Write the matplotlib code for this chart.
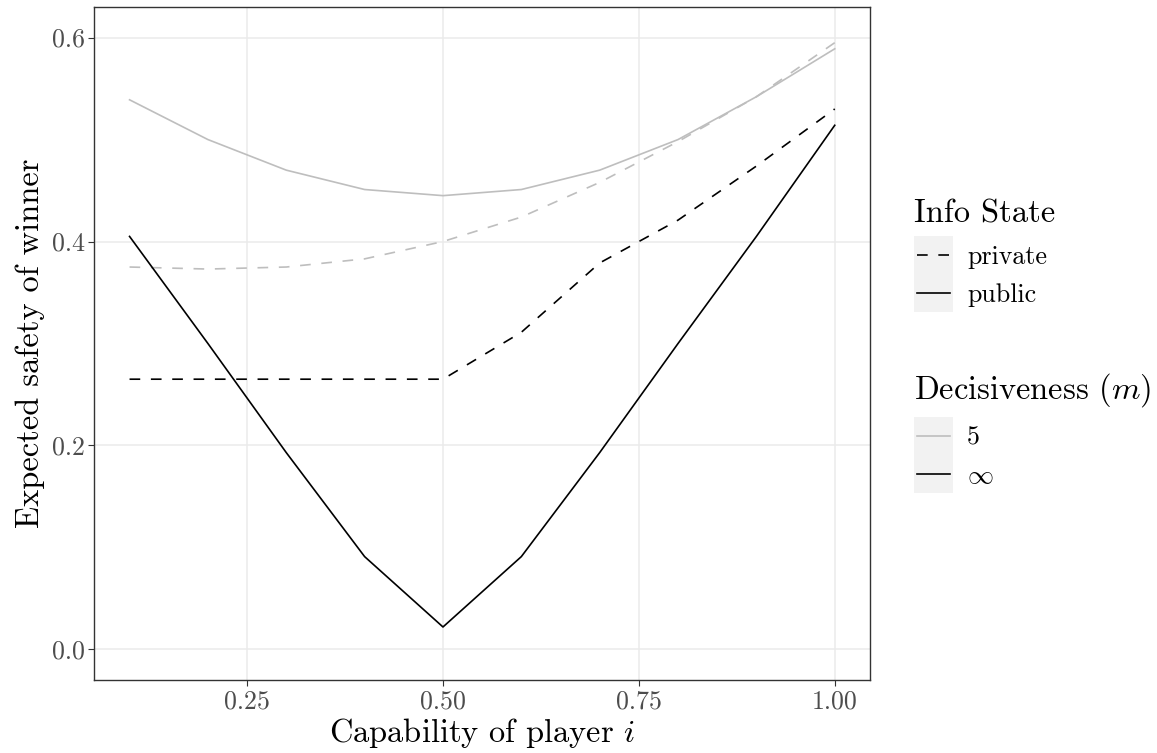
import matplotlib
matplotlib.use("Agg")
import matplotlib.pyplot as plt
from matplotlib.lines import Line2D
from matplotlib.patches import Rectangle
from matplotlib.legend_handler import HandlerBase

plt.rcParams['font.family'] = ['cmr10', 'DejaVu Serif']
plt.rcParams['mathtext.fontset'] = 'cm'
plt.rcParams['axes.formatter.use_mathtext'] = True

# ---- data ----
capability = [0.1, 0.2, 0.3, 0.4, 0.5, 0.6, 0.7, 0.8, 0.9, 1.0]
m5_public = [0.539, 0.500, 0.470, 0.451, 0.445, 0.451, 0.470, 0.500, 0.542, 0.589]
m5_private = [0.375, 0.373, 0.375, 0.383, 0.400, 0.424, 0.458, 0.498, 0.542, 0.595]
inf_private = [0.265, 0.265, 0.265, 0.265, 0.265, 0.311, 0.379, 0.421, 0.474, 0.530]
inf_public = [0.405, 0.300, 0.193, 0.091, 0.022, 0.091, 0.193, 0.300, 0.405, 0.514]

x_ticks = [0.25, 0.50, 0.75, 1.00]
x_ticklabels = ["0.25", "0.50", "0.75", "1.00"]
y_ticks = [0.0, 0.2, 0.4, 0.6]
y_ticklabels = ["0.0", "0.2", "0.4", "0.6"]

info_labels = ["private", "public"]
decis_labels = ["5", r"$\infty$"]

GREY = "#BEBEBE"
BLACK = "#000000"
LW = 1.2
DASH = (6.4, 6.4)

fig = plt.figure(figsize=(11.57, 7.53), dpi=100)
ax = fig.add_axes([94.3 / 1157, 1 - 680 / 753, (870 - 94.3) / 1157, (680 - 7) / 753])

ax.plot(capability, m5_public, color=GREY, lw=LW)
ax.plot(capability, m5_private, color=GREY, lw=LW, linestyle=(0, DASH))
ax.plot(capability, inf_private, color=BLACK, lw=LW, linestyle=(0, DASH))
ax.plot(capability, inf_public, color=BLACK, lw=LW)

ax.set_xlim(0.055, 1.045)
ax.set_ylim(-0.03, 0.63)
ax.set_xticks(x_ticks)
ax.set_xticklabels(x_ticklabels)
ax.set_yticks(y_ticks)
ax.set_yticklabels(y_ticklabels)
ax.grid(True, color="#EBEBEB", lw=1.1)
ax.set_axisbelow(True)
for s in ax.spines.values():
    s.set_color("#333333")
    s.set_linewidth(1.0)
ax.tick_params(axis='both', length=4.0, width=0.8, color="#333333",
               labelcolor="#4D4D4D", labelsize=18.7, pad=3)

ax.set_xlabel(r"Capability of player $i$", fontsize=23.4, labelpad=2)
ax.set_ylabel("Expected safety of winner", fontsize=23.4, labelpad=5)


# ---- legends (ggplot-like keys with grey background) ----
class KeyHandler(HandlerBase):
    def create_artists(self, legend, orig_handle, xdescent, ydescent,
                       width, height, fontsize, trans):
        bg = Rectangle((-xdescent, -ydescent), width, height,
                       facecolor="#F2F2F2", edgecolor="none", transform=trans)
        yc = height / 2 - ydescent
        m = 0.07 * width
        ln = Line2D([-xdescent + m, width - xdescent - m], [yc, yc])
        ln.update_from(orig_handle)
        ln.set_transform(trans)
        return [bg, ln]


def key(color, ls):
    return Line2D([], [], color=color, lw=LW, linestyle=ls)


common = dict(frameon=False, fontsize=18.7, title_fontsize=23.4,
              handlelength=1.5, handleheight=1.872, labelspacing=0.0,
              handletextpad=0.55, borderpad=0, borderaxespad=0,
              alignment='left', loc='upper left',
              handler_map={Line2D: KeyHandler()})

leg1 = fig.legend([key(BLACK, (0, DASH)), key(BLACK, '-')], info_labels,
                  title="Info State", bbox_to_anchor=(914 / 1157, 1 - 199 / 753),
                  **common)
leg2 = fig.legend([key(GREY, '-'), key(BLACK, '-')], decis_labels,
                  title=r"Decisiveness $(m)$", bbox_to_anchor=(914 / 1157, 1 - 371 / 753),
                  **common)
for lg in (leg1, leg2):
    lg._legend_box.sep = 6

fig.savefig("out.png", dpi=100)
